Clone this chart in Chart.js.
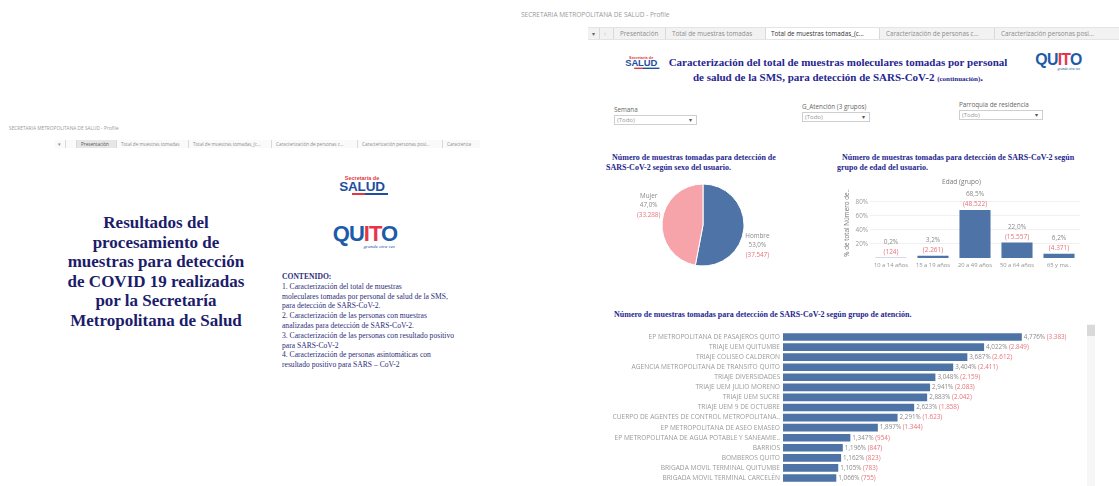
<!DOCTYPE html>
<html lang="es">
<head>
<meta charset="utf-8">
<title>Muestras SARS-CoV-2 - Secretaría Metropolitana de Salud</title>
<script src="https://cdn.jsdelivr.net/npm/chart.js@4.4.1/dist/chart.umd.min.js"></script>
<style>
  html, body { margin: 0; padding: 0; background: #fff; }
  body { width: 1119px; height: 486px; overflow: hidden; position: relative; font-family: "Open Sans", sans-serif; }
  .abs { position: absolute; }
  .profile { color: #9a9a9a; white-space: nowrap; }
  .tabs { display: flex; white-space: nowrap; overflow: hidden; color: #8c8c8c; box-sizing: border-box; }
  .tabs span { display: block; flex: none; box-sizing: border-box; border-right: 1px solid #d9d9d9; overflow: hidden; }
  .serif { font-family: "Liberation Serif", "Times New Roman", serif; }
  .navy { color: #262690; }
  .box-title { font-weight: bold; font-size: 8px; line-height: 10px; white-space: nowrap; }

  /* logos */
  .salud { width: 52px; text-align: center; font-family: "Liberation Sans", Arial, sans-serif; transform-origin: 0 0; }
  .salud .sd { color: #e2383f; font-size: 5.5px; font-weight: bold; line-height: 6px; }
  .salud .sl { color: #1d4f9e; font-size: 13.5px; font-weight: bold; line-height: 11px; letter-spacing: -0.2px; }
  .salud .st { height: 2px; margin: 1px 0 0 16px; background: linear-gradient(90deg, #e2383f 0 35%, #1d4f9e 35%); }
  .quito { width: 68px; font-family: "Liberation Sans", Arial, sans-serif; transform-origin: 0 0; }
  .quito .qw { font-size: 22px; font-weight: bold; line-height: 20px; letter-spacing: -1px; text-align: center; }
  .quito .b { color: #1d5aa8; }
  .quito .r { color: #e8344a; }
  .quito .qs { font-family: "Liberation Serif", serif; font-style: italic; font-size: 5px; color: #1d4f9e; text-align: right; padding-right: 4px; }

  /* filtros */
  .flt { font-size: 6.3px; color: #666; white-space: nowrap; }
  .flt .sel { margin-top: 1px; border: 1px solid #cfcfcf; height: 8px; line-height: 8px; color: #999; padding-left: 2px; position: relative; font-size: 6px; }
  .flt .sel:after { content: "\25BE"; position: absolute; right: 4px; top: 0; color: #555; }
  canvas { position: absolute; }
</style>
</head>
<body>

<!-- panel izquierdo: presentación -->
<div class="abs profile" style="left:9px;top:125px;font-size:4.8px;">SECRETARIA METROPOLITANA DE SALUD - Profile</div>
<div class="abs tabs" style="left:55px;top:140px;width:425px;height:8px;font-size:4.6px;line-height:8px;background:#fafafa;">
  <span style="width:11px;padding-left:3px;">&#9662;</span>
  <span style="width:11px;"></span>
  <span style="width:40px;padding-left:4px;background:#e6e6e6;color:#555;">Presentación</span>
  <span style="width:72px;padding-left:4px;">Total de muestras tomadas</span>
  <span style="width:83px;padding-left:4px;">Total de muestras tomadas_(c...</span>
  <span style="width:86px;padding-left:4px;">Caracterización de personas c...</span>
  <span style="width:85px;padding-left:4px;">Caracterización personas posi...</span>
  <span style="width:37px;padding-left:4px;border:none;">Caracteriza</span>
</div>

<div class="abs serif" style="left:40px;top:213px;width:232px;text-align:center;font-weight:bold;font-size:17px;line-height:19.5px;color:#1c1c6b;">
  Resultados del<br>procesamiento de<br>muestras para detección<br>de COVID 19 realizadas<br>por la Secretaría<br>Metropolitana de Salud
</div>

<div class="abs salud" style="left:336px;top:175px;">
  <div class="sd">Secretaría de</div>
  <div class="sl">SALUD</div>
  <div class="st"></div>
</div>
<div class="abs quito" style="left:331px;top:224px;">
  <div class="qw"><span class="b">QU</span><span class="r">IT</span><span class="b">O</span></div>
  <div class="qs">grande otra vez</div>
</div>

<div class="abs serif" style="left:282px;top:272px;font-size:7.6px;line-height:9.8px;color:#2d2d7a;white-space:nowrap;">
  <b>CONTENIDO:</b><br>
  1. Caracterización del total de muestras<br>
  moleculares tomadas por personal de salud de la SMS,<br>
  para detección de SARS-CoV-2.<br>
  2. Caracterización de las personas con muestras<br>
  analizadas para detección de SARS-CoV-2.<br>
  3. Caracterización de las personas con resultado positivo<br>
  para SARS-CoV-2<br>
  4. Caracterización de personas asintomáticas con<br>
  resultado positivo para SARS – CoV-2
</div>

<!-- panel derecho: tablero -->
<div class="abs profile" style="left:521px;top:10px;font-size:6.5px;">SECRETARIA METROPOLITANA DE SALUD - Profile</div>
<div class="abs tabs" style="left:588px;top:27px;width:531px;height:13px;font-size:6.3px;line-height:12px;background:#f2f2f2;border-top:1px solid #e4e4e4;border-bottom:1px solid #e4e4e4;">
  <span style="width:12px;padding-left:4px;color:#666;">&#9662;</span>
  <span style="width:14px;padding-left:4px;color:#bbb;">&lsaquo;</span>
  <span style="width:52px;padding-left:6px;">Presentación</span>
  <span style="width:100px;padding-left:6px;">Total de muestras tomadas</span>
  <span style="width:114px;padding-left:5px;background:#fff;color:#333;">Total de muestras tomadas_(c...</span>
  <span style="width:115px;padding-left:6px;">Caracterización de personas c...</span>
  <span style="width:124px;padding-left:6px;border:none;">Caracterización personas posi...</span>
</div>

<div class="abs salud" style="left:623px;top:55px;transform:scale(0.7);">
  <div class="sd">Secretaría de</div>
  <div class="sl">SALUD</div>
  <div class="st"></div>
</div>
<div class="abs serif navy" style="left:658px;top:55px;width:360px;text-align:center;font-weight:bold;font-size:11px;line-height:15px;white-space:nowrap;">
  Caracterización del total de muestras moleculares tomadas por personal<br>
  de salud de la SMS, para detección de SARS-CoV-2 <span style="font-size:7px;">(continuación)</span>.
</div>
<div class="abs quito" style="left:1034px;top:53px;transform:scale(0.72);">
  <div class="qw"><span class="b">QU</span><span class="r">IT</span><span class="b">O</span></div>
  <div class="qs">grande otra vez</div>
</div>

<div class="abs flt" style="left:614px;top:105px;width:83px;">Semana<div class="sel">(Todo)</div></div>
<div class="abs flt" style="left:802px;top:102px;width:68px;">G_Atención (3 grupos)<div class="sel">(Todo)</div></div>
<div class="abs flt" style="left:959px;top:100px;width:84px;">Parroquia de residencia<div class="sel">(Todo)</div></div>

<div class="abs serif navy box-title" style="left:606px;top:153px;text-indent:6px;">Número de muestras tomadas para detección de<br>SARS-CoV-2 según sexo del usuario.</div>
<div class="abs serif navy box-title" style="left:837px;top:153px;text-indent:5px;">Número de muestras tomadas para detección de SARS-CoV-2 según<br>grupo de edad del usuario.</div>
<div class="abs serif navy box-title" style="left:614px;top:310px;">Número de muestras tomadas para detección de SARS-CoV-2 según grupo de atención.</div>

<canvas id="sexoChart" width="170" height="90" style="left:618px;top:180px;"></canvas>
<canvas id="edadChart" width="240" height="96" style="left:843px;top:176px;"></canvas>
<canvas id="grupoChart" width="483" height="165" style="left:600px;top:325px;"></canvas>

<div class="abs" style="left:1087px;top:324px;width:8px;height:162px;background:#f6f6f6;"></div>
<div class="abs" style="left:1087px;top:325px;width:8px;height:11px;background:#d9d9d9;"></div>

<script>
// muestras por sexo
const sexoLabels = ['Hombre', 'Mujer'];
const sexoPct = [53.0, 47.0];
const sexoCount = [37547, 33288];

// muestras por grupo de edad (% del total)
const edadLabels = ['10 a 14 años', '15 a 19 años', '20 a 49 años', '50 a 64 años', '65 y ma..'];
const edadPct = [0.2, 3.2, 68.5, 22.0, 6.2];
const edadCount = [124, 2261, 48522, 15557, 4371];
const edadTicks = [20, 40, 60, 80];

// muestras por grupo de atención (% del total)
const grupoLabels = [
  'EP METROPOLITANA DE PASAJEROS QUITO',
  'TRIAJE UEM QUITUMBE',
  'TRIAJE COLISEO CALDERON',
  'AGENCIA METROPOLITANA DE TRANSITO QUITO',
  'TRIAJE DIVERSIDADES',
  'TRIAJE UEM JULIO MORENO',
  'TRIAJE UEM SUCRE',
  'TRIAJE UEM 9 DE OCTUBRE',
  'CUERPO DE AGENTES DE CONTROL METROPOLITANA..',
  'EP METROPOLITANA DE ASEO EMASEO',
  'EP METROPOLITANA DE AGUA POTABLE Y SANEAMIE..',
  'BARRIOS',
  'BOMBEROS QUITO',
  'BRIGADA MOVIL TERMINAL QUITUMBE',
  'BRIGADA MOVIL TERMINAL CARCELÉN'
];
const grupoPct = [4.776, 4.022, 3.687, 3.404, 3.048, 2.941, 2.883, 2.623, 2.291, 1.897, 1.347, 1.196, 1.162, 1.105, 1.066];
const grupoCount = [3383, 2849, 2612, 2411, 2159, 2083, 2042, 1858, 1623, 1344, 954, 847, 823, 783, 755];

const azul = '#4e73a6';
const rosa = '#f7a3aa';
const rojo = '#e6737a';
const gris = '#8a8a8a';
const fuente = '"Open Sans", sans-serif';

Chart.defaults.font.family = fuente;

const pct = (v, d) => v.toFixed(d).replace('.', ',') + '%';
const miles = n => String(n).replace(/\B(?=(\d{3})+(?!\d))/g, '.');

// etiquetas del pastel, fuera de cada porción
const sexoEtiquetas = {
  id: 'sexoEtiquetas',
  afterDatasetsDraw(chart) {
    const ctx = chart.ctx;
    const arcs = chart.getDatasetMeta(0).data;
    ctx.save();
    ctx.textAlign = 'center';
    ctx.textBaseline = 'middle';
    ctx.font = '6.3px ' + fuente;
    arcs.forEach((arc, i) => {
      const a = (arc.startAngle + arc.endAngle) / 2 + Math.PI / 12;
      const d = arc.outerRadius + 17;
      const x = arc.x + Math.cos(a) * d;
      const y = arc.y + Math.sin(a) * d;
      ctx.fillStyle = gris;
      ctx.fillText(sexoLabels[i], x, y - 9);
      ctx.fillText(pct(sexoPct[i], 1), x, y);
      ctx.fillStyle = rojo;
      ctx.fillText('(' + miles(sexoCount[i]) + ')', x, y + 10);
    });
    ctx.restore();
  }
};

new Chart(document.getElementById('sexoChart'), {
  type: 'pie',
  data: {
    labels: sexoLabels,
    datasets: [{
      data: sexoCount,
      backgroundColor: [azul, rosa],
      borderColor: '#fff',
      borderWidth: 1
    }]
  },
  options: {
    responsive: false,
    animation: false,
    radius: 41,
    plugins: { legend: { display: false }, tooltip: { enabled: false } }
  },
  plugins: [sexoEtiquetas]
});

// porcentaje y conteo encima de cada barra
const edadEtiquetas = {
  id: 'edadEtiquetas',
  afterDatasetsDraw(chart) {
    const ctx = chart.ctx;
    ctx.save();
    ctx.textAlign = 'center';
    ctx.textBaseline = 'middle';
    ctx.font = '6.5px ' + fuente;
    chart.getDatasetMeta(0).data.forEach((bar, i) => {
      ctx.fillStyle = gris;
      ctx.fillText(pct(edadPct[i], 1), bar.x, bar.y - 15.5);
      ctx.fillStyle = rojo;
      ctx.fillText('(' + miles(edadCount[i]) + ')', bar.x, bar.y - 5.5);
    });
    ctx.restore();
  }
};

new Chart(document.getElementById('edadChart'), {
  type: 'bar',
  data: {
    labels: edadLabels,
    datasets: [{ data: edadPct, backgroundColor: azul, barPercentage: 0.74, categoryPercentage: 1 }]
  },
  options: {
    responsive: false,
    animation: false,
    layout: { padding: { right: 3 } },
    plugins: {
      legend: { display: false },
      tooltip: { enabled: false },
      title: {
        display: true,
        text: 'Edad (grupo)',
        color: '#777',
        font: { size: 6.5, weight: 'normal' },
        padding: { top: 2, bottom: 2 }
      }
    },
    scales: {
      x: {
        grid: { display: false, drawTicks: false, tickLength: 0 },
        border: { display: false },
        ticks: { color: '#929292', font: { size: 5.8 }, padding: 4, maxRotation: 0, autoSkip: false },
        afterFit(s) { s.height = 14; }
      },
      y: {
        min: 0,
        max: 100,
        grid: { color: '#f1f1f1', drawTicks: false },
        border: { display: false },
        afterBuildTicks(s) { s.ticks = edadTicks.map(v => ({ value: v })); },
        ticks: { callback: v => v + '%', color: '#9a9a9a', font: { size: 6.3 }, padding: 2 },
        title: { display: true, text: '% de total Número de..', color: '#777', font: { size: 6.3 }, padding: 0 },
        afterFit(s) { s.width = 27; }
      }
    }
  },
  plugins: [edadEtiquetas]
});

// valor al final de cada barra horizontal
const grupoEtiquetas = {
  id: 'grupoEtiquetas',
  afterDatasetsDraw(chart) {
    const ctx = chart.ctx;
    ctx.save();
    ctx.textAlign = 'left';
    ctx.textBaseline = 'middle';
    ctx.font = '6.3px ' + fuente;
    chart.getDatasetMeta(0).data.forEach((bar, i) => {
      const t1 = pct(grupoPct[i], 3) + ' ';
      const x = bar.x + 2;
      ctx.fillStyle = gris;
      ctx.fillText(t1, x, bar.y);
      ctx.fillStyle = rojo;
      ctx.fillText('(' + miles(grupoCount[i]) + ')', x + ctx.measureText(t1).width, bar.y);
    });
    ctx.restore();
  }
};

new Chart(document.getElementById('grupoChart'), {
  type: 'bar',
  data: {
    labels: grupoLabels,
    datasets: [{ data: grupoPct, backgroundColor: azul, barPercentage: 0.76, categoryPercentage: 1 }]
  },
  options: {
    indexAxis: 'y',
    responsive: false,
    animation: false,
    plugins: { legend: { display: false }, tooltip: { enabled: false } },
    scales: {
      x: { display: false, min: 0, max: 6 },
      y: {
        grid: { display: false, drawTicks: false },
        border: { display: false },
        ticks: { color: '#9a9a9a', font: { size: 6.6 }, padding: 3, autoSkip: false },
        afterFit(s) { s.width = 183; }
      }
    }
  },
  plugins: [grupoEtiquetas]
});
</script>
</body>
</html>
